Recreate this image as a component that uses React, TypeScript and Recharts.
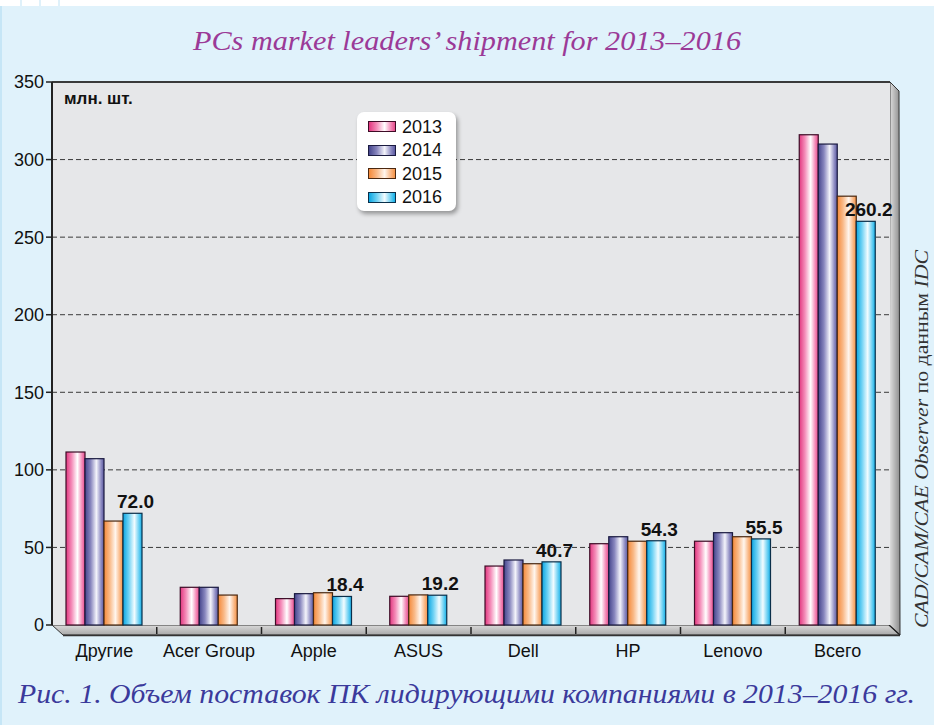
import React from 'react';
import { BarChart, Bar, XAxis, YAxis, CartesianGrid, ReferenceLine } from 'recharts';

const categories = ['Другие', 'Acer Group', 'Apple', 'ASUS', 'Dell', 'HP', 'Lenovo', 'Всего'];
const shipments2013 = [111.5, 24.3, 17.0, 18.5, 38.0, 52.4, 54.0, 316.0];
const shipments2014 = [107.2, 24.3, 20.2, null, 41.9, 56.9, 59.5, 310.0];
const shipments2015 = [67.0, 19.3, 20.8, 19.4, 39.5, 54.0, 56.9, 276.4];
const shipments2016 = [72.0, null, 18.4, 19.2, 40.7, 54.3, 55.5, 260.2];
const labelledSeries = 'y2016';
const yTicks = [0, 50, 100, 150, 200, 250, 300, 350];
const gridValues = [50, 100, 150, 200, 250, 300];

const SANS = '"Liberation Sans", Arial, Helvetica, sans-serif';
const SERIF = '"Liberation Serif", "Times New Roman", serif';

type Series = { key: string; name: string; values: (number | null)[]; stops: [number, string][]; stroke: string };

const series: Series[] = [
  { key: 'y2013', name: '2013', values: shipments2013, stroke: '#3d0c26',
    stops: [[0, '#E2367F'], [0.3, '#F48DB9'], [0.6, '#FFFFFF'], [0.85, '#F386B5'], [1, '#E44C8B']] },
  { key: 'y2014', name: '2014', values: shipments2014, stroke: '#1a1a40',
    stops: [[0, '#45458C'], [0.3, '#8886BE'], [0.6, '#F4F4FB'], [0.85, '#8D8BC2'], [1, '#5B59A0']] },
  { key: 'y2015', name: '2015', values: shipments2015, stroke: '#4a2810',
    stops: [[0, '#F58A3A'], [0.3, '#F9B987'], [0.6, '#FFF6EE'], [0.85, '#F9B47F'], [1, '#F59347']] },
  { key: 'y2016', name: '2016', values: shipments2016, stroke: '#0a2f4a',
    stops: [[0, '#0AA6E2'], [0.3, '#6FD2F4'], [0.6, '#F2FCFF'], [0.85, '#63CDF2'], [1, '#12AEE6']] },
];

const data = categories.map((category, i) => {
  const row: any = { category };
  series.forEach((s) => { row[s.key] = s.values[i]; });
  return row;
});

// centre groups that have a missing year
const slotShift = (payload: any, key: string) => {
  const keys = series.map((s) => s.key);
  const present = keys.filter((k) => payload && payload[k] != null);
  return present.indexOf(key) - keys.indexOf(key) + (keys.length - present.length) / 2;
};

const makeShape = (s: Series) => (props: any) => {
  const { x, y, width, height, index } = props;
  const payload = props.payload ?? data[index];
  if (!payload || payload[s.key] == null || !height) return <g />;
  const dx = slotShift(payload, s.key) * width;
  return (
    <g>
      <rect x={x + dx} y={y} width={width} height={height}
        fill={`url(#grad-${s.key})`} stroke={s.stroke} strokeWidth={1.2} />
      {s.key === labelledSeries ? (
        <text x={x + dx + width / 2 + 3} y={y - 5} textAnchor="middle" fontSize={19}
          fontWeight="bold" fontFamily={SANS} fill="#111">
          {Number(payload[s.key]).toFixed(1)}
        </text>
      ) : null}
    </g>
  );
};

const PLOT_L = 52, PLOT_R = 890, PLOT_T = 82, PLOT_B = 625;

export default function App() {
  const band = (PLOT_R - PLOT_L) / categories.length;
  return (
    <div style={{ position: 'absolute', left: 0, top: 0, width: 934, height: 725, background: '#E0F2FB', overflow: 'hidden' }}>
      <svg width={934} height={725} style={{ position: 'absolute', left: 0, top: 0 }}>
        <defs>
          <linearGradient id="floorGrad" x1="0" y1="0" x2="0" y2="1">
            <stop offset="0" stopColor="#DADADA" />
            <stop offset="1" stopColor="#A8A8A8" />
          </linearGradient>
          <linearGradient id="wallGrad" x1="0" y1="0" x2="1" y2="0">
            <stop offset="0" stopColor="#E4E4E4" />
            <stop offset="1" stopColor="#8C8C8C" />
          </linearGradient>
        </defs>
        <rect x={0} y={0} width={934} height={6} fill="#FFFFFF" />
        {[21, 40, 59].map((x) => <line key={x} x1={x} x2={x} y1={0} y2={6} stroke="#BFE3F5" strokeWidth={1} />)}
        <rect x={0} y={6} width={2} height={719} fill="#C6E6F6" />
        {/* floor */}
        <polygon points={`${PLOT_L},${PLOT_B} ${PLOT_R - 1},${PLOT_B} ${PLOT_R + 10},${PLOT_B + 10} ${PLOT_L + 11},${PLOT_B + 10}`}
          fill="url(#floorGrad)" stroke="#333" strokeWidth={1} />
        <line x1={PLOT_L + 11} y1={PLOT_B + 10.5} x2={PLOT_R + 10} y2={PLOT_B + 10.5} stroke="#333" strokeWidth={1.5} />
        {categories.slice(1).map((c, i) => (
          <line key={c} x1={PLOT_L + band * (i + 1)} x2={PLOT_L + band * (i + 1)} y1={PLOT_B + 2} y2={PLOT_B + 9}
            stroke="#222" strokeWidth={1.5} />
        ))}
        {/* right wall */}
        <polygon points={`${PLOT_R},${PLOT_T} ${PLOT_R + 9},${PLOT_T + 9} ${PLOT_R + 10},${PLOT_B + 10} ${PLOT_R - 1},${PLOT_B}`}
          fill="url(#wallGrad)" stroke="#333" strokeWidth={1} />
        <line x1={PLOT_R - 1} y1={PLOT_B} x2={PLOT_R + 10} y2={PLOT_B + 10} stroke="#222" strokeWidth={1.2} />

        <text x={467} y={50} textAnchor="middle" fontSize={27} fontStyle="italic" fontFamily={SERIF}
          fill="#9B3A97" textLength={548} lengthAdjust="spacingAndGlyphs">
          PCs market leaders’ shipment for 2013–2016
        </text>
        <text x={18} y={703} fontSize={27} fontStyle="italic" fontFamily={SERIF}
          fill="#3B3A9B" textLength={897} lengthAdjust="spacingAndGlyphs">
          Рис. 1. Объем поставок ПК лидирующими компаниями в 2013–2016 гг.
        </text>
        <text transform="translate(928,628) rotate(-90)" x={0} y={0} fontSize={19} fontFamily={SERIF}
          fill="#333" textLength={378} lengthAdjust="spacingAndGlyphs">
          <tspan fontStyle="italic">CAD/CAM/CAE Observer</tspan>
          <tspan> по данным </tspan>
          <tspan fontStyle="italic">IDC</tspan>
        </text>
      </svg>

      <div style={{ position: 'absolute', left: 0, top: 0 }}>
        <BarChart width={934} height={725} data={data}
          margin={{ top: PLOT_T, right: 934 - PLOT_R, bottom: 0, left: 0 }}
          barSize={19} barGap={0}>
          <defs>
            {series.map((s) => (
              <linearGradient key={s.key} id={`grad-${s.key}`} x1="0" y1="0" x2="1" y2="0">
                {s.stops.map(([o, c], i) => <stop key={i} offset={o} stopColor={c} />)}
              </linearGradient>
            ))}
          </defs>
          <CartesianGrid vertical={false} horizontalValues={gridValues} stroke="#3a3a3a"
            strokeDasharray="5 3" fill="#E6E7E9" fillOpacity={1} />
          <XAxis dataKey="category" height={725 - PLOT_B} interval={0} tickLine={false} axisLine={false}
            tickMargin={13} tick={{ fontSize: 18, fill: '#111', fontFamily: SANS }} />
          <YAxis width={PLOT_L} domain={[0, 350]} ticks={yTicks} interval={0} tickSize={6} tickMargin={2}
            stroke="#222" axisLine={{ stroke: '#222', strokeWidth: 2 }} tickLine={{ stroke: '#222', strokeWidth: 1.5 }}
            tick={{ fontSize: 18, fill: '#111', fontFamily: SANS }} />
          <ReferenceLine y={350} stroke="#3a3a3a" strokeWidth={2} />
          {series.map((s) => (
            <Bar key={s.key} dataKey={s.key} name={s.name} isAnimationActive={false}
              fill={`url(#grad-${s.key})`} shape={makeShape(s)} />
          ))}
        </BarChart>
      </div>

      <div style={{ position: 'absolute', left: 64, top: 89, fontSize: 17, fontWeight: 'bold', fontFamily: SANS,
        color: '#111', lineHeight: '20px' }}>млн. шт.</div>

      <div style={{ position: 'absolute', left: 357, top: 112, width: 99, height: 99, background: '#FFFFFF',
        borderRadius: 7, boxShadow: '2px 3px 4px rgba(0,0,0,0.35)', boxSizing: 'border-box', paddingTop: 3 }}>
        {series.map((s) => (
          <div key={s.key} style={{ display: 'flex', alignItems: 'center', height: 23.5, paddingLeft: 11 }}>
            <div style={{ width: 28, height: 11, boxSizing: 'border-box', border: `1px solid ${s.stroke}`,
              background: `linear-gradient(to right, ${s.stops.map(([o, c]) => `${c} ${o * 100}%`).join(', ')})` }} />
            <span style={{ marginLeft: 6, fontSize: 18, fontFamily: SANS, color: '#111', lineHeight: '18px' }}>{s.name}</span>
          </div>
        ))}
      </div>
    </div>
  );
}
